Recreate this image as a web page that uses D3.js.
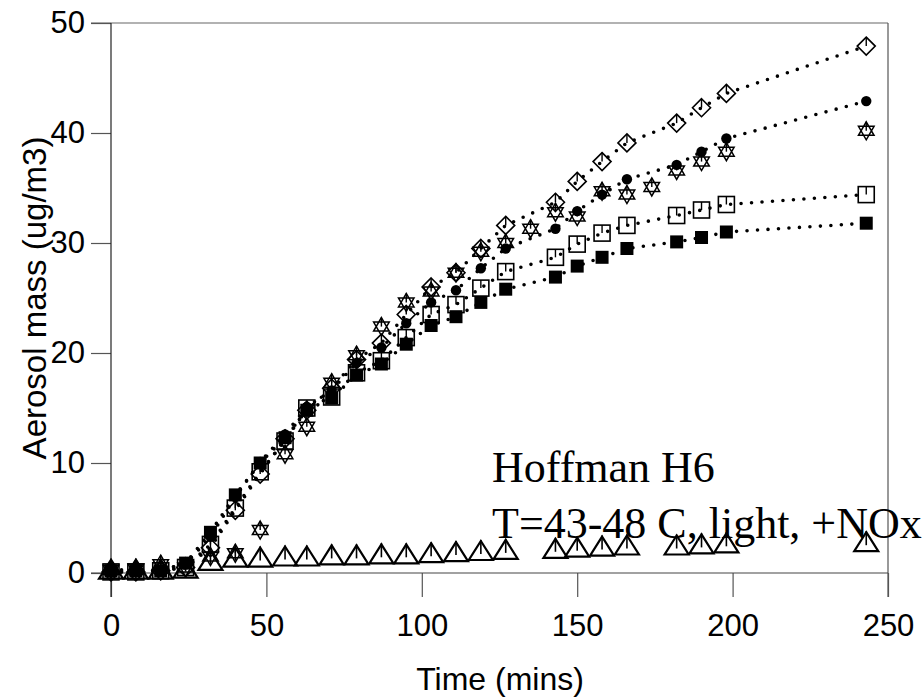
<!DOCTYPE html>
<html>
<head>
<meta charset="utf-8">
<script src="https://cdn.jsdelivr.net/npm/d3@7"></script>
<style>
body { margin: 0; background: #fff; }
.canvas text { font-family: "Liberation Sans", Arial, sans-serif; }
</style>
</head>
<body>
<script>
/*Data*/
var times = [0,8,16,24,32,40,48,56,63,71,79,87,95,103,111,119,127,143,150,158,166,182,190,198,243]
var starTimes = [0,8,16,24,32,40,48,56,63,71,79,87,95,103,111,119,127,135,143,150,158,166,174,182,190,198,243]

var diamondVals = [0.1,0.1,0.2,0.5,2.3,5.7,9.0,12.2,14.8,16.8,19.4,20.9,23.5,26.0,27.3,29.5,31.6,33.7,35.6,37.4,39.1,40.9,42.3,43.6,47.9]
var circleVals = [0.3,0.3,0.3,0.8,3.3,6.9,10.1,12.6,15.1,16.6,19.1,20.5,22.7,24.6,25.7,27.7,29.5,31.3,32.9,34.4,35.8,37.1,38.3,39.5,42.9]
var openSquareVals = [0.1,0.1,0.2,0.5,2.6,5.9,9.2,12.0,15.0,16.0,18.2,19.3,21.4,23.5,24.4,25.9,27.4,28.7,29.9,30.9,31.6,32.5,33.0,33.5,34.4]
var filledSquareVals = [0.2,0.2,0.2,0.9,3.7,7.1,10.0,12.3,14.8,15.9,18.0,19.0,20.8,22.5,23.3,24.6,25.8,26.9,27.9,28.7,29.5,30.1,30.5,31.0,31.8]
var triangleVals = [0.3,0.3,0.3,0.4,1.1,1.4,1.4,1.5,1.5,1.6,1.6,1.7,1.7,1.8,1.9,2.0,2.1,2.2,2.3,2.4,2.5,2.5,2.6,2.7,2.8]
var starVals = [0.3,0.4,0.8,0.5,1.5,1.8,3.9,10.8,13.3,17.3,19.8,22.4,24.6,25.6,27.3,29.2,30.0,31.3,32.8,32.4,34.7,34.4,35.1,36.6,37.4,38.3,40.2]

var xTicks = [0,50,100,150,200,250]
var yTicks = [0,10,20,30,40,50]

var noteLines = ["Hoffman H6", "T=43-48 C, light, +NOx"]

var canvas_width = 924, canvas_height = 700

var canvas = d3.select("body").append("svg")
			.attr("width", canvas_width)
			.attr("height", canvas_height)
			.attr("class", "canvas")

var xScale = d3.scaleLinear().domain([0, 250]).range([111, 888])
var yScale = d3.scaleLinear().domain([0, 50]).range([573, 23])

function pairUp(ts, vs){
	return ts.map(function(t, i){ return {t: t, v: vs[i]} })
}

/*Frame + axes*/
var frame = canvas.append("g").attr("class", "frame")

frame.append("line").attr("x1", xScale(0) - 20).attr("x2", xScale(250))
	.attr("y1", yScale(50)).attr("y2", yScale(50)).attr("stroke", "#666").attr("stroke-width", 1.2)
frame.append("line").attr("x1", xScale(250)).attr("x2", xScale(250))
	.attr("y1", yScale(50)).attr("y2", yScale(0) + 24).attr("stroke", "#555").attr("stroke-width", 1.2)

var yAxis = d3.axisLeft(yScale).tickValues(yTicks).tickSize(20).tickPadding(6)
var xAxis = d3.axisBottom(xScale).tickValues(xTicks).tickSize(24).tickPadding(17)

var gy = canvas.append("g").attr("transform", "translate(" + xScale(0) + ",0)").call(yAxis)
var gx = canvas.append("g").attr("transform", "translate(0," + yScale(0) + ")").call(xAxis)

gy.select(".domain").remove()
gx.select(".domain").remove()

/*left spine runs down past the axis like a tick*/
canvas.append("line").attr("x1", xScale(0)).attr("x2", xScale(0))
	.attr("y1", yScale(50)).attr("y2", yScale(0) + 24).attr("stroke", "#222").attr("stroke-width", 1.2)
canvas.append("line").attr("x1", xScale(0) - 20).attr("x2", xScale(250))
	.attr("y1", yScale(0)).attr("y2", yScale(0)).attr("stroke", "#444").attr("stroke-width", 1.2)

canvas.selectAll(".tick line").attr("stroke", "#555").attr("stroke-width", 1.2)
canvas.selectAll(".tick text")
	.attr("font-family", "Liberation Sans, Arial, sans-serif")
	.attr("font-size", 31)
	.attr("fill", "#000")

canvas.append("text")
	.attr("x", 500)
	.attr("y", 690)
	.attr("text-anchor", "middle")
	.attr("font-size", 32)
	.text("Time (mins)")

canvas.append("text")
	.attr("transform", "translate(46, 298) rotate(-90)")
	.attr("text-anchor", "middle")
	.attr("font-size", 33)
	.text("Aerosol mass (ug/m3)")

/*Dotted trend lines*/
var line = d3.line().x(function(d){ return xScale(d.t) }).y(function(d){ return yScale(d.v) })

var lineSeries = [diamondVals, circleVals, openSquareVals, filledSquareVals]
lineSeries.forEach(function(vals){
	canvas.append("path")
		.datum(pairUp(times, vals))
		.attr("d", line)
		.attr("fill", "none")
		.attr("stroke", "#000")
		.attr("stroke-width", 3.6)
		.attr("stroke-linecap", "round")
		.attr("stroke-dasharray", "0 10.5")
})

/*Markers*/
function drawMarkers(data, cls, drawFn){
	var g = canvas.selectAll("." + cls)
		.data(data)
		.enter()
			.append("g")
			.attr("class", cls)
			.attr("transform", function(d){ return "translate(" + xScale(d.t) + "," + yScale(d.v) + ")" })
	drawFn(g)
}

drawMarkers(pairUp(times, openSquareVals), "osq", function(g){
	g.append("rect").attr("x", -8).attr("y", -8).attr("width", 16).attr("height", 16)
		.attr("fill", "none").attr("stroke", "#000").attr("stroke-width", 1.6)
	g.append("line").attr("x1", 0).attr("x2", 0).attr("y1", -8).attr("y2", 0)
		.attr("stroke", "#000").attr("stroke-width", 1.4)
})

drawMarkers(pairUp(times, diamondVals), "dia", function(g){
	g.append("path").attr("d", "M0,-9L9,0L0,9L-9,0Z")
		.attr("fill", "none").attr("stroke", "#000").attr("stroke-width", 1.6)
	g.append("line").attr("x1", 0).attr("x2", 0).attr("y1", -9).attr("y2", 0)
		.attr("stroke", "#000").attr("stroke-width", 1.4)
})

drawMarkers(pairUp(starTimes, starVals), "star", function(g){
	var r = 9
	var up = [0, 120, 240].map(function(a){ var rad = (a - 90) * Math.PI / 180; return [r * Math.cos(rad), r * Math.sin(rad)] })
	var down = [60, 180, 300].map(function(a){ var rad = (a - 90) * Math.PI / 180; return [r * Math.cos(rad), r * Math.sin(rad)] })
	g.append("path").attr("d", "M" + up.join("L") + "Z M" + down.join("L") + "Z")
		.attr("fill", "none").attr("stroke", "#000").attr("stroke-width", 1.5)
	g.append("line").attr("x1", 0).attr("x2", 0).attr("y1", -9).attr("y2", 0)
		.attr("stroke", "#000").attr("stroke-width", 1.4)
})

drawMarkers(pairUp(times, circleVals), "circ", function(g){
	g.append("circle").attr("r", 5.2).attr("fill", "#000")
})

drawMarkers(pairUp(times, filledSquareVals), "fsq", function(g){
	g.append("rect").attr("x", -6.5).attr("y", -6.5).attr("width", 13).attr("height", 13).attr("fill", "#000")
})

drawMarkers(pairUp(times, triangleVals), "tri", function(g){
	g.append("path").attr("d", "M0,-10L12,9L-12,9Z")
		.attr("fill", "none").attr("stroke", "#000").attr("stroke-width", 2.2).attr("stroke-linejoin", "miter")
	g.append("line").attr("x1", 0).attr("x2", 0).attr("y1", -11).attr("y2", 3)
		.attr("stroke", "#000").attr("stroke-width", 1.6)
})

/*Annotation*/
canvas.selectAll(".note")
	.data(noteLines)
	.enter()
		.append("text")
		.attr("class", "note")
		.attr("x", 492)
		.attr("y", function(d, i){ return 482 + i * 56 })
		.style("font-family", "Liberation Serif, Times New Roman, serif")
		.attr("font-size", 44)
		.text(function(d){ return d })
</script>
</body>
</html>
